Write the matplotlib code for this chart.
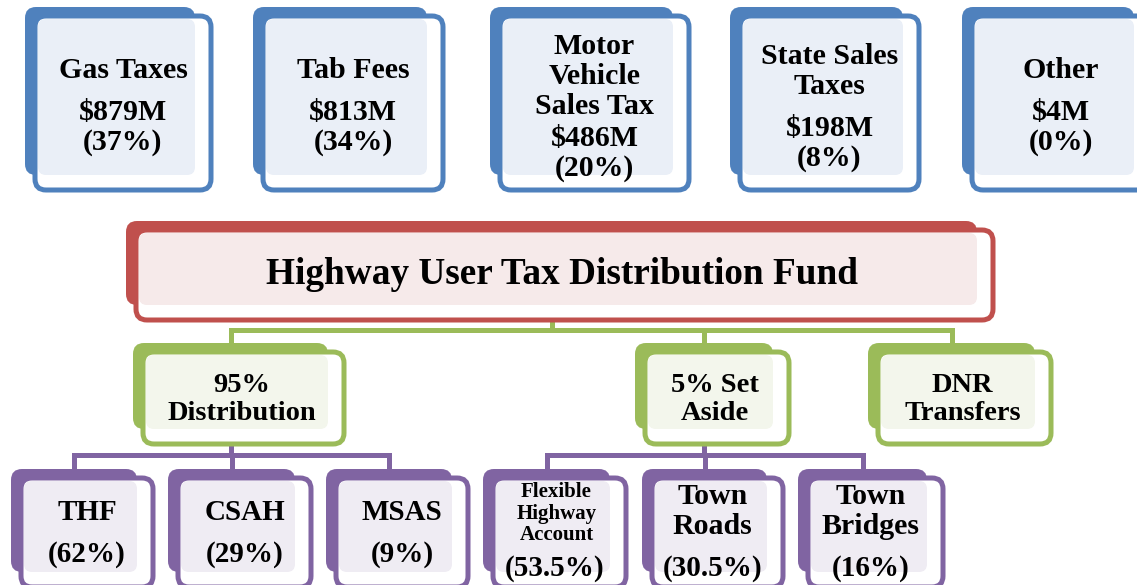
import matplotlib
matplotlib.use("Agg")
import matplotlib.pyplot as plt
from matplotlib.patches import FancyBboxPatch

# --- data -------------------------------------------------------------
source_names = ["Gas Taxes", "Tab Fees", "Motor\nVehicle\nSales Tax", "State Sales\nTaxes", "Other"]
source_amounts = [879, 813, 486, 198, 4]          # $M
source_shares = [37, 34, 20, 8, 0]                # %
fund_title = "Highway User Tax Distribution Fund"
split_names = ["95%\nDistribution", "5% Set\nAside", "DNR\nTransfers"]
dist_names = ["THF", "CSAH", "MSAS"]
dist_shares = ["62", "29", "9"]
aside_names = ["Flexible\nHighway\nAccount", "Town\nRoads", "Town\nBridges"]
aside_shares = ["53.5", "30.5", "16"]

# --- layout (pixels, y down) -----------------------------------------
W, H = 1137, 585
top_x = [25, 253, 490, 730, 962]
top_w = [170, 174, 183, 173, 172]
top_y, top_h = 7, 168
fund_box = (126, 221, 851, 84)
split_x = [133, 635, 868]
split_w = [195, 138, 167]
split_y, split_h = 343, 86
leaf_x = [11, 168, 326, 483, 642, 798]
leaf_w = [126, 127, 126, 127, 125, 129]
leaf_y, leaf_h = 469, 103

BLUE, BLUE_L = "#4F81BD", "#EAEFF7"
RED, RED_L = "#C0504D", "#F6EAEA"
GREEN, GREEN_L = "#9BBB59", "#F3F6EC"
PURPLE, PURPLE_L = "#8064A2", "#EFECF3"
LW = 3.6
FONT = "Liberation Serif"

fig = plt.figure(figsize=(W / 100, H / 100), dpi=100)
ax = fig.add_axes([0, 0, 1, 1])
ax.set_xlim(0, W)
ax.set_ylim(H, 0)
ax.axis("off")


def node(x, y, w, h, col, light, r=11):
    # back solid block
    ax.add_patch(FancyBboxPatch((x, y), w, h, boxstyle="round,pad=0,rounding_size=%d" % r,
                                fc=col, ec="none", zorder=2))
    # front white box with outline
    fx, fy, fw, fh = x + 10, y + 9, w + 6, h + 6
    ax.add_patch(FancyBboxPatch((fx, fy), fw, fh, boxstyle="round,pad=0,rounding_size=%d" % r,
                                fc="white", ec=col, lw=LW, zorder=3))
    # tinted overlap
    ax.add_patch(FancyBboxPatch((fx + 3, fy + 3), x + w - fx - 3, y + h - fy - 3,
                                boxstyle="round,pad=0,rounding_size=%d" % (r - 3),
                                fc=light, ec="none", zorder=4))
    return fx + fw / 2, fy + fh / 2


def put(xc, ys, lines, size):
    for yy, t in zip(ys, lines):
        ax.text(xc, yy, t, ha="center", va="center", fontsize=size, fontweight="bold",
                family=FONT, color="black", zorder=5)


def conn(pts, col):
    xs, ys = zip(*pts)
    ax.plot(xs, ys, color=col, lw=LW, solid_capstyle="butt", solid_joinstyle="miter", zorder=1)


# --- connectors -------------------------------------------------------
fx0, fy0, fw0, fh0 = fund_box
mid_fund = fx0 + fw0 / 2
split_c = [x + w / 2 for x, w in zip(split_x, split_w)]
leaf_c = [x + w / 2 for x, w in zip(leaf_x, leaf_w)]
bar1 = 330
conn([(mid_fund, fy0 + fh0 + 12), (mid_fund, bar1)], GREEN)
conn([(split_c[0], split_y), (split_c[0], bar1), (split_c[2], bar1), (split_c[2], split_y)], GREEN)
conn([(split_c[1], bar1), (split_c[1], split_y)], GREEN)
bar2 = 455
split_bottom = split_y + split_h + 15
for grp, parent in ((leaf_c[:3], split_c[0]), (leaf_c[3:], split_c[1])):
    conn([(grp[0], leaf_y), (grp[0], bar2), (grp[2], bar2), (grp[2], leaf_y)], PURPLE)
    conn([(grp[1], bar2), (grp[1], leaf_y)], PURPLE)
    conn([(parent, split_bottom), (parent, bar2)], PURPLE)

# --- top row: sources -------------------------------------------------
for i in range(len(source_names)):
    cx, cy = node(top_x[i], top_y, top_w[i], top_h, BLUE, BLUE_L)
    label = source_names[i].split("\n")
    vals = ["$%dM" % source_amounts[i], "(%d%%)" % source_shares[i]]
    gap = 42 if len(label) < 3 else 32
    span = 30 * (len(label) - 1) + gap + 30
    y0 = cy + 4 - span / 2
    ys = [y0 + 30 * k for k in range(len(label))]
    ys += [ys[-1] + gap, ys[-1] + gap + 30]
    put(cx, ys, label + vals, 21.5)

# --- fund -------------------------------------------------------------
cx, cy = node(fx0, fy0, fw0, fh0, RED, RED_L)
put(cx - 3, [cy], [fund_title], 26.8)

# --- split row --------------------------------------------------------
for i in range(len(split_names)):
    cx, cy = node(split_x[i], split_y, split_w[i], split_h, GREEN, GREEN_L)
    lines = split_names[i].split("\n")
    put(cx - 2, [cy - 12, cy + 16], lines, 20.5)

# --- leaves -----------------------------------------------------------
for i in range(3):
    cx, cy = node(leaf_x[i], leaf_y, leaf_w[i], leaf_h, PURPLE, PURPLE_L)
    put(cx, [513, 554], [dist_names[i], "(%s%%)" % dist_shares[i]], 21)
for i in range(3):
    cx, cy = node(leaf_x[3 + i], leaf_y, leaf_w[3 + i], leaf_h, PURPLE, PURPLE_L)
    lines = aside_names[i].split("\n")
    if len(lines) == 3:
        put(cx - 3, [492, 513.5, 535], lines, 15)
    else:
        put(cx - 5, [496, 526], lines, 21.5)
    put(cx - 5, [568], ["(%s%%)" % aside_shares[i]], 21)

fig.savefig("out.png", dpi=100)
